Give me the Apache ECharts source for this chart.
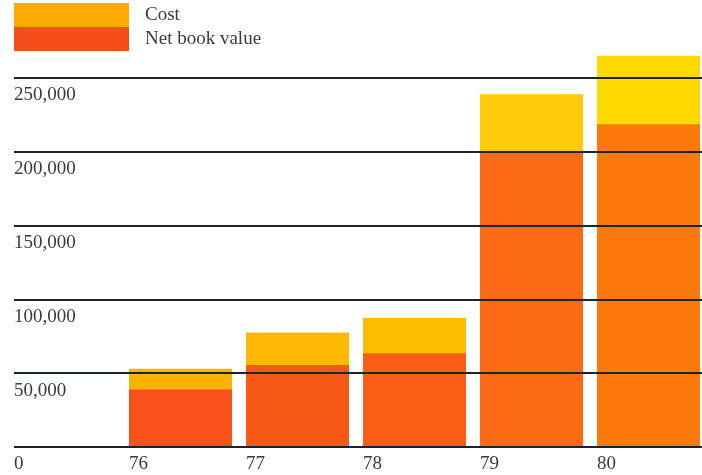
<!DOCTYPE html>
<html>
<head>
<meta charset="utf-8">
<script src="https://cdn.jsdelivr.net/npm/echarts@6/dist/echarts.min.js"></script>
<style>
  html, body { margin: 0; padding: 0; background: #fff; }
  #chart { width: 702px; height: 475px; }
</style>
</head>
<body>
<div id="chart"></div>
<script>
// Fiscal years and values (in currency units)
const years = ['76', '77', '78', '79', '80'];
const cost = [53000, 77500, 87500, 239000, 265000];
const netBookValue = [39000, 55600, 63500, 200000, 218600];
const yTicks = [0, 50000, 100000, 150000, 200000, 250000];

// Per-bar shading (the print inks drift from deep to light across the row)
const costShades = ['#FDB300', '#FDB902', '#FDBD00', '#FFCB08', '#FFD900'];
const netShades = ['#F8521A', '#F85916', '#FA5D15', '#FC6914', '#FE790C'];

const serif = '"Liberation Serif", "DejaVu Serif", serif';
const chart = echarts.init(document.getElementById('chart'), null, { renderer: 'canvas' });

const fmt = v => v === 0 ? '0' : v.toLocaleString('en-US');

chart.setOption({
  animation: false,
  backgroundColor: '#ffffff',
  legend: {
    orient: 'vertical',
    left: 14,
    top: 3,
    padding: 0,
    itemWidth: 115,
    itemHeight: 24,
    itemGap: 0,
    icon: 'rect',
    selectedMode: false,
    data: ['Cost', 'Net book value'],
    textStyle: { fontFamily: serif, fontSize: 19, color: '#3a3a3a', padding: [0, 0, 0, 11] }
  },
  grid: [
    { left: 14, right: 0, top: 4.2, bottom: 28, outerBoundsMode: 'none' },
    { left: 122, width: 585, top: 4.2, bottom: 28, outerBoundsMode: 'none' }
  ],
  xAxis: [
    { type: 'value', gridIndex: 0, min: 0, max: 1, show: false },
    {
      type: 'category', gridIndex: 1, data: years,
      axisLine: { show: false }, axisTick: { show: false }, splitLine: { show: false },
      axisLabel: {
        margin: 8,
        align: 'center',
        formatter: v => '{a|' + v + '}',
        rich: { a: { width: 103, align: 'left', fontFamily: serif, fontSize: 19, color: '#3a3a3a' } }
      }
    }
  ],
  yAxis: [
    {
      type: 'value', gridIndex: 0, min: 0, max: 300000, interval: 50000,
      z: 10,
      axisLine: { show: false }, axisTick: { show: false },
      splitLine: { show: true, showMaxLine: false, lineStyle: { color: '#1c2424', width: 2 } },
      axisLabel: {
        inside: true, margin: 0, align: 'left', verticalAlign: 'top', padding: [8, 0, 0, 0],
        fontFamily: serif, fontSize: 19, color: '#3a3a3a',
        formatter: v => yTicks.indexOf(v) >= 0 ? fmt(v) : ''
      }
    },
    { type: 'value', gridIndex: 1, min: 0, max: 300000, show: false }
  ],
  series: [
    {
      name: 'Cost', type: 'bar', xAxisIndex: 1, yAxisIndex: 1,
      barWidth: 103, barGap: '-100%',
      itemStyle: { color: '#FCA904' },
      data: cost.map((v, i) => ({ value: v, itemStyle: { color: costShades[i] } }))
    },
    {
      name: 'Net book value', type: 'bar', xAxisIndex: 1, yAxisIndex: 1,
      barWidth: 103, barGap: '-100%',
      itemStyle: { color: '#F64E1A' },
      data: netBookValue.map((v, i) => ({ value: v, itemStyle: { color: netShades[i] } }))
    }
  ]
});
</script>
</body>
</html>
